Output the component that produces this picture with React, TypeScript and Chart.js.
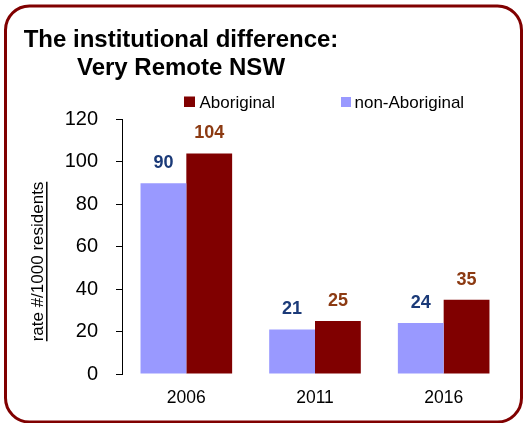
import React, { useEffect, useRef } from "react";
import { Chart, registerables } from "chart.js";

Chart.register(...registerables);

const categories = ["2006", "2011", "2016"];
const nonAboriginal = [90, 21, 24];
const aboriginal = [104, 25, 35];
const seriesNames = ["non-Aboriginal", "Aboriginal"];
const titleLines = ["The institutional difference:", "Very Remote NSW"];
const yTitle = "rate #/1000 residents";
const yTicks = { min: 0, max: 120, step: 20 };

const FONT = "'Liberation Sans', Arial, Helvetica, sans-serif";
const COL_NON = "#9999FF";
const COL_AB = "#800000";
const LBL_NON = "#1B3A78";
const LBL_AB = "#8C3A12";

const decorPlugin = {
  id: "decor",
  beforeDraw(chart: any) {
    const ctx = chart.ctx;
    ctx.save();
    ctx.fillStyle = "#ffffff";
    ctx.fillRect(0, 0, chart.width, chart.height);
    ctx.restore();
  },
  afterDraw(chart: any) {
    const ctx = chart.ctx;
    ctx.save();
    // border
    ctx.strokeStyle = COL_AB;
    ctx.lineWidth = 3;
    ctx.beginPath();
    (ctx as any).roundRect(5.5, 6, 516, 416, 24);
    ctx.stroke();

    // title
    ctx.fillStyle = "#000";
    ctx.font = `bold 24px ${FONT}`;
    ctx.textAlign = "center";
    ctx.textBaseline = "alphabetic";
    ctx.fillText(titleLines[0], 181, 47);
    ctx.fillText(titleLines[1], 181, 74.5);

    // legend (Aboriginal first)
    ctx.font = `17px ${FONT}`;
    ctx.textAlign = "left";
    ctx.fillStyle = COL_AB;
    ctx.fillRect(184, 96.5, 11, 10.5);
    ctx.fillStyle = "#000";
    ctx.fillText(seriesNames[1], 199.5, 107.7);
    ctx.fillStyle = COL_NON;
    ctx.fillRect(341, 97, 10, 10);
    ctx.fillStyle = "#000";
    ctx.fillText(seriesNames[0], 354.5, 107.7);

    // y title rotated + underline
    ctx.save();
    ctx.translate(43.3, 261.5);
    ctx.rotate(-Math.PI / 2);
    ctx.font = `17px ${FONT}`;
    ctx.textAlign = "center";
    ctx.fillStyle = "#000";
    ctx.fillText(yTitle, 0, 0);
    const w = ctx.measureText(yTitle).width;
    ctx.strokeStyle = "#000";
    ctx.lineWidth = 1.5;
    ctx.beginPath();
    ctx.moveTo(-w / 2, 3.5);
    ctx.lineTo(w / 2, 3.5);
    ctx.stroke();
    ctx.restore();

    // data labels
    ctx.font = `bold 18px ${FONT}`;
    ctx.textAlign = "center";
    ctx.textBaseline = "alphabetic";
    chart.data.datasets.forEach((ds: any, i: number) => {
      const meta = chart.getDatasetMeta(i);
      ctx.fillStyle = i === 0 ? LBL_NON : LBL_AB;
      meta.data.forEach((bar: any, j: number) => {
        ctx.fillText(String(ds.data[j]), bar.x, bar.y - 15);
      });
    });
    ctx.restore();
  },
};

export default function App() {
  const ref = useRef<HTMLCanvasElement>(null);
  useEffect(() => {
    if (!ref.current) return;
    const chart = new Chart(ref.current, {
      type: "bar",
      data: {
        labels: categories,
        datasets: [
          {
            label: seriesNames[0],
            data: nonAboriginal,
            backgroundColor: COL_NON,
            borderWidth: 0,
            categoryPercentage: 0.712,
            barPercentage: 1,
          },
          {
            label: seriesNames[1],
            data: aboriginal,
            backgroundColor: COL_AB,
            borderWidth: 0,
            categoryPercentage: 0.712,
            barPercentage: 1,
          },
        ],
      },
      options: {
        responsive: false,
        animation: false,
        devicePixelRatio: 1,
        layout: { padding: { left: 0, top: 119.5, right: 20, bottom: 0 } },
        plugins: {
          legend: { display: false },
          title: { display: false },
          tooltip: { enabled: false },
        },
        scales: {
          y: {
            min: yTicks.min,
            max: yTicks.max,
            ticks: {
              stepSize: yTicks.step,
              color: "#000",
              font: { family: FONT, size: 20 },
              padding: 18,
            },
            grid: {
              drawOnChartArea: false,
              drawTicks: true,
              tickLength: 6,
              color: "#000",
            },
            border: { display: true, color: "#000", width: 1 },
            afterFit: (s: any) => {
              s.width = 122;
            },
          },
          x: {
            ticks: {
              color: "#000",
              font: { family: FONT, size: 17.5 },
              padding: 14,
            },
            grid: { display: false, drawTicks: false },
            border: { display: false },
            afterFit: (s: any) => {
              s.height = 49;
            },
          },
        },
      },
      plugins: [decorPlugin],
    } as any);
    return () => chart.destroy();
  }, []);
  return (
    <div style={{ position: "absolute", left: 0, top: 0, width: 528, height: 423 }}>
      <canvas ref={ref} width={528} height={423} style={{ display: "block" }} />
    </div>
  );
}
